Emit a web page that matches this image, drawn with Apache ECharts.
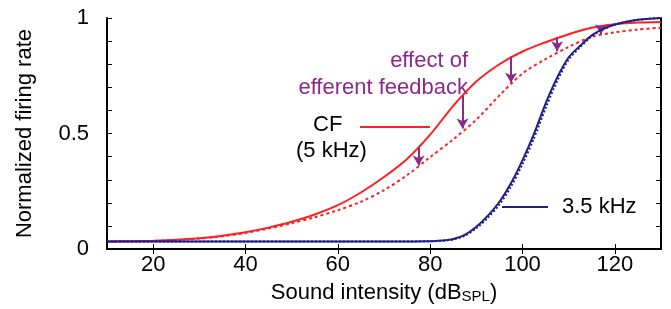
<!DOCTYPE html>
<html>
<head>
<meta charset="utf-8">
<script src="https://cdn.jsdelivr.net/npm/echarts@6/dist/echarts.min.js"></script>
<style>
  html, body { margin: 0; padding: 0; background: #fff; }
  #chart { width: 671px; height: 309px; }
</style>
</head>
<body>
<div id="chart"></div>
<script>
// CF (5 kHz): solid = no feedback, dashed = with efferent feedback
const cfX = [10, 15, 20, 25, 30, 35, 40, 45, 50, 55, 60, 65, 70, 75, 80, 85, 90, 95, 100, 105, 110, 115, 120, 125, 130];
const cfSolid = [0.033, 0.034, 0.036, 0.04, 0.047, 0.058, 0.073, 0.093, 0.118, 0.15, 0.19, 0.245, 0.312, 0.39, 0.495, 0.62, 0.725, 0.8, 0.855, 0.895, 0.93, 0.958, 0.973, 0.98, 0.983];
const cfDashed = [0.033, 0.034, 0.035, 0.039, 0.046, 0.056, 0.07, 0.089, 0.112, 0.138, 0.168, 0.205, 0.255, 0.32, 0.398, 0.475, 0.56, 0.665, 0.76, 0.822, 0.875, 0.918, 0.938, 0.95, 0.958];

// 3.5 kHz
const lowX = [10, 20, 30, 40, 50, 60, 70, 80, 82.5, 85, 87.5, 90, 92.5, 95, 97.5, 100, 102.5, 105, 107.5, 110, 112.5, 115, 117.5, 120, 122.5, 125, 127.5, 130];
const lowSolid = [0.033, 0.033, 0.033, 0.033, 0.033, 0.033, 0.033, 0.034, 0.037, 0.044, 0.062, 0.097, 0.145, 0.205, 0.285, 0.385, 0.5, 0.63, 0.742, 0.83, 0.88, 0.925, 0.953, 0.972, 0.984, 0.992, 0.997, 1.0];
const lowDashed = [0.033, 0.033, 0.033, 0.033, 0.033, 0.033, 0.033, 0.034, 0.036, 0.042, 0.058, 0.09, 0.136, 0.193, 0.27, 0.368, 0.48, 0.61, 0.727, 0.82, 0.874, 0.921, 0.951, 0.971, 0.984, 0.992, 0.997, 1.0];

// feedback arrows (x, from, to)
const arrowX = [77.5, 87, 97.5, 107.5, 117];
const arrowFrom = [0.44, 0.665, 0.832, 0.917, 0.965];
const arrowTo = [0.362, 0.522, 0.72, 0.856, 0.93];

const xTicks = [20, 40, 60, 80, 100, 120];

const RED = '#ff1f1f';
const BLUE = '#1f1f8a';
const PURPLE = '#8b2a8b';
const FONT = 'Liberation Sans';
const TXT = '22px "Liberation Sans"';

const zip = (xs, ys) => xs.map((x, i) => [x, ys[i]]);

const chart = echarts.init(document.getElementById('chart'), null, { renderer: 'canvas' });

const frameLine = { show: true, lineStyle: { color: '#000', width: 2 } };
const tickStyle = { color: '#000', width: 1 };

const option = {
  animation: false,
  grid: { left: 107, right: 10, top: 18, bottom: 51 },
  xAxis: [
    {
      type: 'value', min: 10, max: 130, position: 'bottom',
      axisLine: frameLine,
      axisTick: { inside: true, length: 5, lineStyle: tickStyle, customValues: xTicks },
      axisLabel: { customValues: xTicks, color: '#000', fontFamily: FONT, fontSize: 22, margin: 5 },
      splitLine: { show: false },
      name: '{a|Sound intensity (dB}{s|SPL}{a|)}',
      nameLocation: 'middle', nameGap: 30,
      nameTextStyle: {
        rich: {
          a: { fontFamily: FONT, fontSize: 22, color: '#000', lineHeight: 26 },
          s: { fontFamily: FONT, fontSize: 15, color: '#000', lineHeight: 26, padding: [8, 0, 0, 0] }
        }
      }
    },
    {
      type: 'value', min: 10, max: 130, position: 'top',
      axisLine: frameLine,
      axisTick: { inside: true, length: 5, lineStyle: tickStyle, customValues: xTicks },
      axisLabel: { show: false },
      splitLine: { show: false }
    }
  ],
  yAxis: [
    {
      type: 'value', min: 0, max: 1, interval: 0.1, position: 'left',
      axisLine: frameLine,
      axisTick: { show: true, inside: true, length: 5, lineStyle: tickStyle },
      axisLabel: {
        color: '#000', fontFamily: FONT, fontSize: 22, margin: 18,
        formatter: v => (Math.abs(v) < 1e-6 ? '0' : Math.abs(v - 0.5) < 1e-6 ? '0.5' : Math.abs(v - 1) < 1e-6 ? '1' : '')
      },
      splitLine: { show: false },
      name: 'Normalized firing rate',
      nameLocation: 'middle', nameGap: 71,
      nameTextStyle: { fontFamily: FONT, fontSize: 22, color: '#000' }
    },
    {
      type: 'value', min: 0, max: 1, interval: 0.1, position: 'right',
      axisLine: frameLine,
      axisTick: { show: true, inside: true, length: 5, lineStyle: tickStyle },
      axisLabel: { show: false },
      splitLine: { show: false }
    }
  ],
  series: [
    {
      type: 'line', data: zip(cfX, cfDashed), showSymbol: false, smooth: 0.3,
      lineStyle: { color: RED, width: 2, type: [3, 3] }, z: 2
    },
    {
      type: 'line', data: zip(cfX, cfSolid), showSymbol: false, smooth: 0.3,
      lineStyle: { color: RED, width: 2 }, z: 3
    },
    {
      type: 'line', data: zip(lowX, lowDashed), showSymbol: false, smooth: 0.3,
      lineStyle: { color: BLUE, width: 2, type: [2, 2] }, z: 4
    },
    {
      type: 'line', data: zip(lowX, lowSolid), showSymbol: false, smooth: 0.3,
      lineStyle: { color: BLUE, width: 2 }, z: 5
    },
    {
      type: 'line', data: [], z: 6,
      markLine: {
        silent: true, animation: false,
        symbol: ['none', 'arrow'], symbolSize: [9, 10],
        label: { show: false },
        lineStyle: { color: PURPLE, width: 2, type: 'solid' },
        data: arrowX.map((x, i) => [{ coord: [x, arrowFrom[i]] }, { coord: [x, arrowTo[i]] }])
      }
    }
  ],
  graphic: [
    { type: 'text', x: 468, y: 61, style: { text: 'effect of', fill: PURPLE, font: TXT, textAlign: 'right', textVerticalAlign: 'middle' } },
    { type: 'text', x: 468, y: 88, style: { text: 'efferent feedback', fill: PURPLE, font: TXT, textAlign: 'right', textVerticalAlign: 'middle' } },
    { type: 'text', x: 313, y: 125, style: { text: 'CF', fill: '#000', font: TXT, textVerticalAlign: 'middle' } },
    { type: 'text', x: 296, y: 151, style: { text: '(5 kHz)', fill: '#000', font: TXT, textVerticalAlign: 'middle' } },
    { type: 'line', shape: { x1: 360, y1: 127, x2: 430, y2: 127 }, style: { stroke: RED, lineWidth: 2 } },
    { type: 'line', shape: { x1: 502, y1: 207, x2: 548, y2: 207 }, style: { stroke: BLUE, lineWidth: 2 } },
    { type: 'text', x: 562, y: 207, style: { text: '3.5 kHz', fill: '#000', font: TXT, textVerticalAlign: 'middle' } }
  ]
};

chart.setOption(option);
</script>
</body>
</html>
